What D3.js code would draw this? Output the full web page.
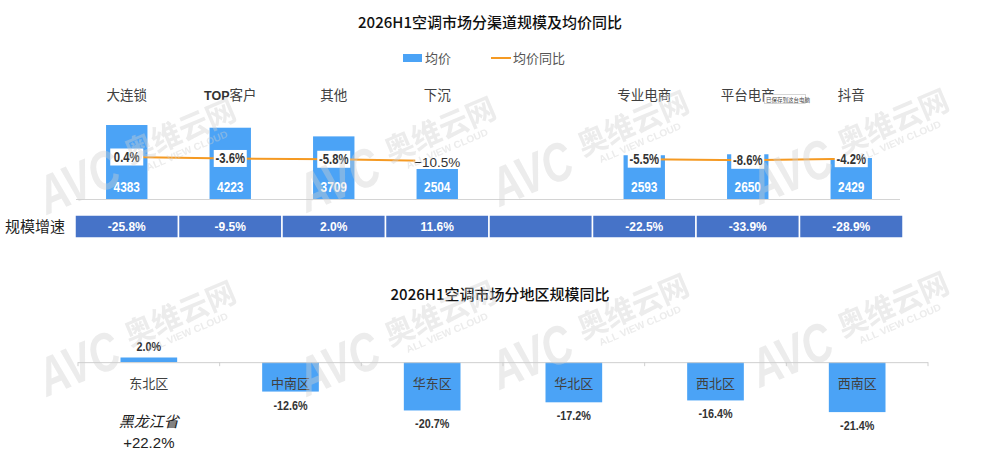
<!DOCTYPE html>
<html><head><meta charset="utf-8">
<script src="https://cdn.jsdelivr.net/npm/d3@7/dist/d3.min.js"></script>
<style>
html,body{margin:0;padding:0;background:#fff;}
svg{display:block;}
</style></head>
<body>
<svg id="chart" width="1000" height="460"></svg>
<script>
// ---- data ----
const channels   = ["大连锁","TOP客户","其他","下沉","(空)","专业电商","平台电商","抖音"];
const avgPrice   = [4383, 4223, 3709, 2504, null, 2593, 2650, 2429];
const priceYoY   = [0.4, -3.6, -5.8, -10.5, null, -5.5, -8.6, -4.2];
const scaleGrowth= [-25.8, -9.5, 2.0, 11.6, null, -22.5, -33.9, -28.9];
const regions    = ["东北区","中南区","华东区","华北区","西北区","西南区"];
const regionYoY  = [2.0, -12.6, -20.7, -17.2, -16.4, -21.4];
const noteLines  = ["黑龙江省", "+22.2%"];
const legendLabels = ["均价", "均价同比"];
const titles = ["2026H1空调市场分渠道规模及均价同比", "2026H1空调市场分地区规模同比"];

const BLUE = "#4ba3f6", DEEP = "#4673c8", ORANGE = "#f59a23";
const CJK = "'Noto Sans CJK SC','Noto Sans',sans-serif";
const SANS = "'Liberation Sans',Arial,sans-serif";
const fmt = v => v.toFixed(1) + "%";

const svg = d3.select("#chart");

// condensed heavy number label
function numText(sel, size, color, sx) {
  return sel.append("text").attr("text-anchor","middle")
    .attr("transform", `scale(${sx || 0.8},1)`)
    .style("font-family", SANS).style("font-weight","bold").style("font-size", size + "px")
    .attr("fill", color);
}

// ---- titles ----
svg.append("text").attr("x", 490).attr("y", 28).attr("text-anchor","middle")
  .style("font-family", CJK).style("font-size","15px").style("font-weight",500).attr("fill","#111")
  .text(titles[0]);
svg.append("text").attr("x", 500).attr("y", 300).attr("text-anchor","middle")
  .style("font-family", CJK).style("font-size","15px").style("font-weight",500).attr("fill","#111")
  .text(titles[1]);

// ---- legend ----
const lg = svg.append("g");
lg.append("rect").attr("x",403).attr("y",54).attr("width",19).attr("height",8).attr("fill",BLUE);
lg.append("text").attr("x",425).attr("y",62.5).style("font-family",CJK).style("font-size","13px")
  .attr("fill","#555").text(legendLabels[0]);
lg.append("line").attr("x1",491).attr("x2",511).attr("y1",58).attr("y2",58)
  .attr("stroke",ORANGE).attr("stroke-width",2);
lg.append("text").attr("x",513).attr("y",62.5).style("font-family",CJK).style("font-size","13px")
  .attr("fill","#555").text(legendLabels[1]);

// ---- top chart scales ----
const x = d3.scaleBand().domain(channels).range([75, 903]).paddingInner(0.6).paddingOuter(0.3);
const y = d3.scaleLinear().domain([0, 5000]).range([199, 114.6]);
const y2 = d3.scaleLinear().domain([-10.5, 0.4]).range([161, 157]);
const slot = c => x(c) - x.step() * x.paddingInner() / 2;
const cx = c => x(c) + x.bandwidth() / 2;

const topData = channels.map((c, i) => ({c, price: avgPrice[i], yoy: priceYoY[i], g: scaleGrowth[i]}));
const shown = topData.filter(d => d.price != null);

// category labels
const catLab = svg.append("g").selectAll("text").data(shown).join("text")
  .attr("x", d => cx(d.c)).attr("y", 100).attr("text-anchor","middle")
  .style("font-family", CJK).style("font-size","13.5px").attr("fill","#404040");
catLab.each(function(d){
  const t = d3.select(this);
  const m = d.c.match(/^([A-Z]+)(.*)$/);
  if (m) {
    t.append("tspan").style("font-family", SANS).style("font-weight","bold").style("font-size","12.5px")
      .attr("fill","#333").text(m[1]);
    t.append("tspan").text(m[2]);
  } else t.text(d.c);
});

// baseline
svg.append("line").attr("x1", x.range()[0]+1).attr("x2", x.range()[1]-3)
  .attr("y1", y(0)+0.5).attr("y2", y(0)+0.5).attr("stroke","#d4d4d4").attr("stroke-width",1);

// bars
svg.append("g").selectAll("rect").data(shown).join("rect")
  .attr("x", d => x(d.c)).attr("width", x.bandwidth())
  .attr("y", d => y(d.price)).attr("height", d => y(0) - y(d.price))
  .attr("fill", BLUE);

// bar values
const bv = svg.append("g").selectAll("g").data(shown).join("g")
  .attr("transform", d => `translate(${cx(d.c)},192)`);
numText(bv, 14.5, "#fff", 0.82).text(d => d.price);

// line
const line = d3.line().defined(d => d.yoy != null).x(d => cx(d.c)).y(d => y2(d.yoy));
svg.append("path").datum(topData).attr("d", line).attr("fill","none")
  .attr("stroke", ORANGE).attr("stroke-width", 2);

// line labels
const lab = svg.append("g").selectAll("g").data(topData.filter(d => d.yoy != null)).join("g")
  .attr("transform", d => `translate(${cx(d.c)},${y2(d.yoy)})`);
lab.each(function(d){
  const g = d3.select(this);
  if (d.c === "下沉") {
    g.append("rect").attr("x",-22).attr("y",-9).attr("width",44).attr("height",17).attr("fill","#fff");
    g.append("text").attr("x",0).attr("y",5.5).attr("text-anchor","middle")
      .style("font-family",SANS).style("font-size","13.5px").attr("fill","#333")
      .text("\u2212" + fmt(-d.yoy));
  } else {
    g.append("rect").attr("x",-16.5).attr("y",-8.5).attr("width",33).attr("height",17).attr("fill","#fff");
    numText(g, 14.5, "#333", 0.78).attr("y",5).text(fmt(d.yoy));
  }
});

// growth row
svg.append("text").attr("x",5).attr("y",232).style("font-family",CJK).style("font-size","15px")
  .attr("fill","#222").text("规模增速");
const row = svg.append("g").selectAll("g").data(topData).join("g");
row.append("rect").attr("x", d => slot(d.c)).attr("width", x.step()).attr("y",215).attr("height",23)
  .attr("fill", DEEP).attr("stroke","#fff").attr("stroke-width",1.5);
row.filter(d => d.g != null).append("text").attr("x", d => slot(d.c) + x.step()/2).attr("y",231)
  .attr("text-anchor","middle").style("font-family",SANS)
  .style("font-weight","bold").style("font-size","12px").attr("fill","#fff")
  .text(d => fmt(d.g));

// ---- bottom chart ----
const xb = d3.scaleBand().domain(regions).range([78, 928]).paddingInner(0.6).paddingOuter(0.3);
const yb = d3.scaleLinear().domain([-25, 5]).range([420.5, 350.5]);
const reg = regions.map((r, i) => ({r, v: regionYoY[i]}));
const bcx = r => xb(r) + xb.bandwidth()/2;

svg.append("g").selectAll("rect").data(reg).join("rect")
  .attr("x", d => xb(d.r)).attr("width", xb.bandwidth())
  .attr("y", d => yb(Math.max(0, d.v))).attr("height", d => Math.abs(yb(d.v) - yb(0)))
  .attr("fill", BLUE);

svg.append("line").attr("x1", xb.range()[0]).attr("x2", xb.range()[1])
  .attr("y1", yb(0)+0.5).attr("y2", yb(0)+0.5).attr("stroke","#cfcfcf").attr("stroke-width",1);
svg.append("g").selectAll("line").data(d3.range(regions.length + 1)).join("line")
  .attr("x1", i => xb.range()[0] + i * xb.step()).attr("x2", i => xb.range()[0] + i * xb.step())
  .attr("y1", yb(0)).attr("y2", yb(0) + 4).attr("stroke","#cfcfcf");

svg.append("g").selectAll("text").data(reg).join("text")
  .attr("x", d => bcx(d.r)).attr("y", 387.5).attr("text-anchor","middle")
  .style("font-family",CJK).style("font-size","13px").attr("fill","#404040").text(d => d.r);

const rv = svg.append("g").selectAll("g").data(reg).join("g")
  .attr("transform", d => `translate(${bcx(d.r)},${d.v >= 0 ? yb(d.v) - 7 : yb(d.v) + 18})`);
numText(rv, 13.5, "#333", 0.8).text(d => fmt(d.v));

svg.append("text").attr("x", bcx(regions[0])).attr("y", 427).attr("text-anchor","middle")
  .style("font-family",CJK).style("font-size","15px").style("font-style","italic")
  .attr("fill","#222").text(noteLines[0]);
svg.append("text").attr("x", bcx(regions[0])).attr("y", 448).attr("text-anchor","middle")
  .style("font-family",SANS).style("font-size","15px")
  .attr("fill","#222").text(noteLines[1]);

// ---- saved tooltip artifact ----
const tip = svg.append("g");
tip.append("rect").attr("x",764.5).attr("y",94.5).attr("width",41).attr("height",9)
  .attr("fill","#fff").attr("stroke","#bbb").attr("stroke-width",0.6);
tip.append("text").attr("x",766).attr("y",101.5).style("font-family",CJK).style("font-size","5.5px")
  .attr("fill","#444").text("已保存到这台电脑");

// ---- watermarks ----
const wmPos = [[47,215],[307,213],[500,207],[760,205],[47,397],[307,397],[500,390],[760,388]];
const wm = svg.append("g").attr("fill","#cfcfcf").attr("opacity",0.4).style("pointer-events","none");
wmPos.forEach(([px,py]) => {
  const g = wm.append("g").attr("transform",`translate(${px},${py}) rotate(-23)`);
  g.append("text").attr("x",0).attr("y",0).attr("textLength",84).attr("lengthAdjust","spacingAndGlyphs")
    .style("font-family",SANS).style("font-weight","bold")
    .style("font-style","italic").style("font-size","54px").text("AVC");
  g.append("text").attr("x",96).attr("y",-14).attr("textLength",118).attr("lengthAdjust","spacingAndGlyphs")
    .style("font-family",CJK).style("font-weight","bold").style("font-size","30px").text("奥维云网");
  g.append("text").attr("x",110).attr("y",-1).attr("textLength",88).attr("lengthAdjust","spacingAndGlyphs")
    .style("font-family",SANS).style("font-weight","bold")
    .style("font-size","10px").text("ALL VIEW CLOUD");
});
</script>
</body></html>
